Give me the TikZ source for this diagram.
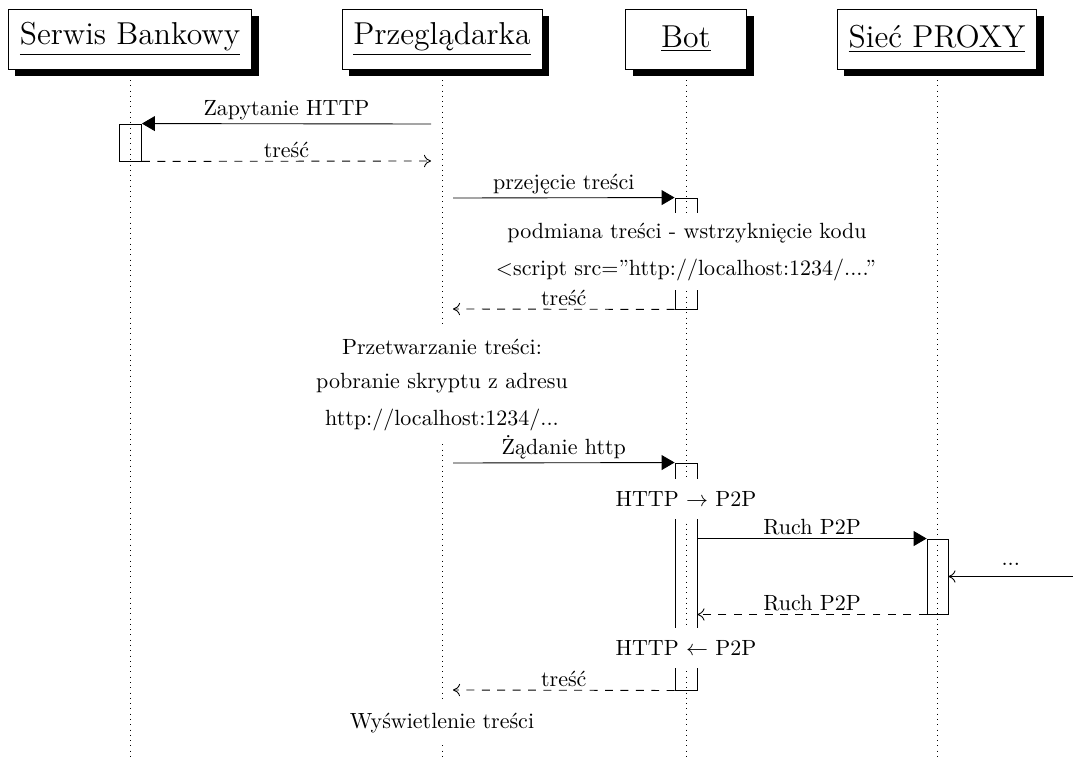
\documentclass[tikz,border=0pt]{standalone}
\usetikzlibrary{arrows.meta,shadows}
\begin{document}
\begin{tikzpicture}[x=0.4545pt,y=-0.4545pt, line width=0.4pt,
  header/.style={draw, fill=white, font=\Large, minimum height=27.3pt, inner xsep=5.2pt,
    drop shadow={shadow xshift=3.2pt, shadow yshift=-3.2pt, opacity=1, fill=black}},
  lifeline/.style={dotted},
  actbox/.style={draw, minimum width=10pt, inner sep=0pt},
  note/.style={fill=white, inner xsep=1pt, inner ysep=0pt, minimum height=18.5pt},
  msglabel/.style={above, inner sep=1.5pt},
  sync/.style={-{Triangle[length=5.9pt,width=6.8pt]}},
  async/.style={-{To[length=3.2pt,width=5.6pt]}},
  reply/.style={dash pattern=on 3.6pt off 3.4pt, -{To[length=3.2pt,width=5.6pt]}}]
\useasboundingbox (0,0) rectangle (1073,758);

% headers
\node[header] (sb) at (130,39) {\underline{Serwis Bankowy}};
\node[header] (pz) at (442,39) {\underline{Przeglądarka}};
\node[header, minimum width=55pt] (bot) at (686,39) {\underline{Bot}};
\node[header] (px) at (937,39) {\underline{Sieć PROXY}};

% lifelines
\coordinate (sbEnd) at (130,758);
\coordinate (pzEnd) at (442,758);
\coordinate (botEnd) at (686,758);
\coordinate (pxEnd) at (937,758);
\draw[lifeline] (sb.south) -- (sbEnd);
\draw[lifeline] (pz.south) -- (pzEnd);
\draw[lifeline] (bot.south) -- (botEnd);
\draw[lifeline] (px.south) -- (pxEnd);

% activation boxes
\node[actbox, minimum height=16.8pt] (actSB) at (130.5,142.5) {};
\node[actbox, minimum height=50.45pt] (actB1) at (686,253.5) {};
\node[actbox, minimum height=103.2pt] (actB2) at (686,576.5) {};
\node[actbox, minimum height=34.1pt, minimum width=9.5pt] (actP) at (937.5,576.5) {};

% notes
\node[note] (n1) at (687,233) {podmiana treści - wstrzyknięcie kodu};
\node[note] (n2) at (686,270) {$<$script src=”http://localhost:1234/....”};
\node[note] (n3) at (442,347) {Przetwarzanie treści:};
\node[note] (n4) at (442,383) {pobranie skryptu z adresu};
\node[note] (n5) at (442,420) {http://localhost:1234/...};
\node[note] (n6) at (686,499) {HTTP $\rightarrow$ P2P};
\node[note] (n7) at (686,648) {HTTP $\leftarrow$ P2P};
\node[note] (n8) at (442,723) {Wyświetlenie treści};

% messages
\coordinate (p1) at (431,124);
\coordinate (p2) at (431,161);
\coordinate (p3) at (453,198);
\coordinate (p4) at (453,309);
\coordinate (p5) at (453,463);
\coordinate (p9) at (453,690);
\coordinate (edge) at (1073,576.5);

\draw[sync] (p1) -- (actSB.north east) node[msglabel, midway] {Zapytanie HTTP};
\draw[reply] (actSB.south east) -- (p2) node[msglabel, midway] {treść};
\draw[sync] (p3) -- (actB1.north west) node[msglabel, midway] {przejęcie treści};
\draw[reply] (actB1.south west) -- (p4) node[msglabel, midway] {treść};
\draw[sync] (p5) -- (actB2.north west) node[msglabel, midway] {Żądanie http};
\draw[sync] (actB2.east |- actP.north) -- (actP.north west) node[msglabel, midway] {Ruch P2P};
\draw[async] (edge) -- (actP.east) node[above, inner sep=5pt, midway] {...};
\draw[reply] (actP.south west) -- (actB2.east |- actP.south) node[msglabel, midway] {Ruch P2P};
\draw[reply] (actB2.south west) -- (p9) node[msglabel, midway] {treść};
\end{tikzpicture}
\end{document}
